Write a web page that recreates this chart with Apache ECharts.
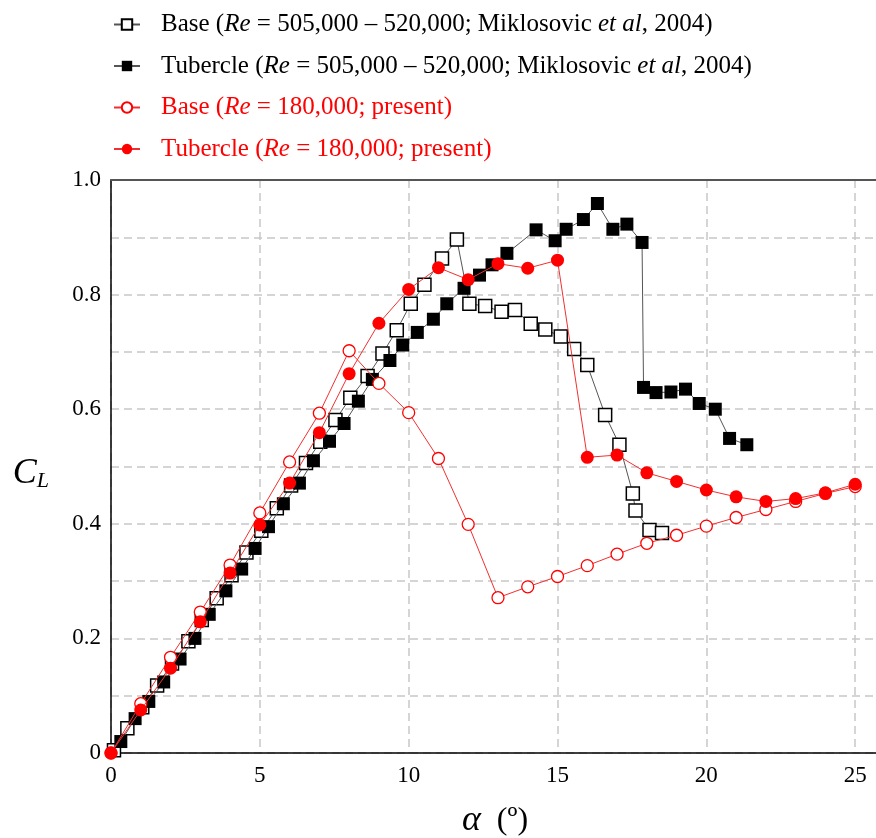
<!DOCTYPE html>
<html>
<head>
<meta charset="utf-8">
<script src="https://cdn.jsdelivr.net/npm/echarts@6/dist/echarts.min.js"></script>
<style>
  html, body { margin: 0; padding: 0; background: #fff; }
  #chart { width: 876px; height: 838px; }
</style>
</head>
<body>
<div id="chart"></div>
<script>
// Miklosovic et al (2004), Re = 505,000 - 520,000
const baseMikAlpha = [0.1, 0.55, 1.05, 1.55, 2.05, 2.6, 3.05, 3.55, 4.05, 4.55, 5.05, 5.57, 6.05, 6.55, 7.03, 7.54, 8.04, 8.62, 9.12, 9.6,
  10.07, 10.53, 11.12, 11.62, 12.04, 12.57, 13.12, 13.57, 14.1, 14.59, 15.11, 15.56, 16.0, 16.6, 17.08, 17.53, 17.62, 18.09, 18.51];
const baseMikCl = [0.005, 0.043, 0.08, 0.118, 0.156, 0.195, 0.232, 0.27, 0.31, 0.35, 0.388, 0.427, 0.467, 0.506, 0.543, 0.581, 0.62, 0.658, 0.697, 0.738,
  0.784, 0.817, 0.863, 0.896, 0.784, 0.78, 0.77, 0.773, 0.749, 0.739, 0.727, 0.705, 0.677, 0.59, 0.538, 0.453, 0.423, 0.389, 0.384];

const tubMikAlpha = [0.33, 0.81, 1.27, 1.77, 2.32, 2.82, 3.3, 3.86, 4.39, 4.84, 5.29, 5.79, 6.33, 6.8, 7.34, 7.83, 8.31, 8.78, 9.37, 9.8,
  10.29, 10.83, 11.28, 11.86, 12.38, 12.8, 13.3, 14.28, 14.92, 15.29, 15.87, 16.34, 16.86, 17.33, 17.84, 17.89, 18.31, 18.81, 19.3, 19.76,
  20.3, 20.78, 21.36];
const tubMikCl = [0.02, 0.06, 0.09, 0.124, 0.164, 0.2, 0.242, 0.283, 0.321, 0.357, 0.395, 0.435, 0.471, 0.51, 0.544, 0.575, 0.614, 0.652, 0.685, 0.712,
  0.734, 0.757, 0.784, 0.811, 0.834, 0.852, 0.872, 0.913, 0.894, 0.914, 0.931, 0.959, 0.914, 0.923, 0.891, 0.638, 0.629, 0.63, 0.635, 0.61,
  0.6, 0.549, 0.538];

// present study, Re = 180,000
const presentAlpha = [0, 1, 2, 3, 4, 5, 6, 7, 8, 9, 10, 11, 12, 13, 14, 15, 16, 17, 18, 19, 20, 21, 22, 23, 24, 25];
const basePresentCl = [0, 0.086, 0.167, 0.246, 0.328, 0.419, 0.508, 0.593, 0.702, 0.645, 0.594, 0.514, 0.399, 0.271, 0.29, 0.308, 0.327,
  0.347, 0.366, 0.38, 0.396, 0.411, 0.425, 0.439, 0.453, 0.465];
const tubPresentCl = [0, 0.075, 0.148, 0.229, 0.314, 0.398, 0.471, 0.559, 0.662, 0.75, 0.809, 0.847, 0.826, 0.854, 0.846, 0.86, 0.516,
  0.52, 0.489, 0.474, 0.459, 0.447, 0.439, 0.444, 0.454, 0.469];

const xTicks = [0, 5, 10, 15, 20, 25];
const yTicks = [0, 0.2, 0.4, 0.6, 0.8, 1.0];

const serif = '"Liberation Serif", "DejaVu Serif", serif';
const RED = '#ff0000';

const seriesNames = ['baseMik', 'tubMik', 'basePresent', 'tubPresent'];
const legendText = {
  baseMik: '{n|Base (}{i|Re}{n| = 505,000 – 520,000; Miklosovic }{i|et al}{n|, 2004)}',
  tubMik: '{n|Tubercle (}{i|Re}{n| = 505,000 – 520,000; Miklosovic }{i|et al}{n|, 2004)}',
  basePresent: '{rn|Base (}{ri|Re}{rn| = 180,000; present)}',
  tubPresent: '{rn|Tubercle (}{ri|Re}{rn| = 180,000; present)}'
};

const zip = (xs, ys) => xs.map((x, i) => [x, ys[i]]);

const chart = echarts.init(document.getElementById('chart'), null, { renderer: 'canvas' });

const LF = 25;
const option = {
  backgroundColor: '#fff',
  animation: false,
  textStyle: { fontFamily: serif },
  legend: {
    orient: 'vertical',
    left: 108,
    top: 7,
    itemWidth: 26,
    itemHeight: 13,
    itemGap: 16.5,
    data: seriesNames,
    formatter: name => legendText[name],
    textStyle: {
      padding: [0, 0, 0, 16],
      rich: {
        n: { fontFamily: serif, fontSize: LF, color: '#000' },
        i: { fontFamily: serif, fontSize: LF, color: '#000', fontStyle: 'italic' },
        rn: { fontFamily: serif, fontSize: LF, color: RED },
        ri: { fontFamily: serif, fontSize: LF, color: RED, fontStyle: 'italic' }
      }
    }
  },
  grid: { left: 111, right: -3, top: 180, bottom: 85, containLabel: false, outerBoundsMode: 'none' },
  xAxis: [{
    type: 'value',
    min: 0,
    max: 25.8,
    interval: 5,
    name: '{a|α}{b|  (º)}',
    nameLocation: 'middle',
    nameGap: 50,
    nameTextStyle: {
      rich: {
        a: { fontFamily: serif, fontSize: 36, fontStyle: 'italic', color: '#000' },
        b: { fontFamily: serif, fontSize: 32, color: '#000' }
      }
    },
    axisLine: { show: true, onZero: false, lineStyle: { color: '#000', width: 1.5 } },
    axisTick: { show: false },
    axisLabel: {
      fontFamily: serif, fontSize: 23, color: '#000', margin: 11,
      showMaxLabel: false,
      formatter: v => (xTicks.indexOf(v) >= 0 ? String(v) : '')
    },
    splitLine: { show: true, lineStyle: { color: '#c8c8c8', width: 1.5, type: [8, 5] } }
  }, {
    type: 'value',
    position: 'top',
    min: 0,
    max: 25.8,
    axisLine: { show: true, onZero: false, lineStyle: { color: '#555', width: 2 } },
    axisTick: { show: false },
    axisLabel: { show: false },
    splitLine: { show: false }
  }],
  yAxis: {
    type: 'value',
    min: 0,
    max: 1,
    interval: 0.1,
    name: '{c|C}{s|L}',
    nameLocation: 'middle',
    nameRotate: 0,
    nameGap: 62,
    nameTextStyle: {
      padding: [14, 0, 0, 0],
      rich: {
        c: { fontFamily: serif, fontSize: 36, fontStyle: 'italic', color: '#000' },
        s: { fontFamily: serif, fontSize: 22, fontStyle: 'italic', color: '#000', padding: [16, 0, 0, 0] }
      }
    },
    axisLine: { show: true, lineStyle: { color: '#000', width: 1.5 } },
    axisTick: { show: false },
    axisLabel: {
      fontFamily: serif, fontSize: 23, color: '#000', margin: 10,
      formatter: v => {
        const hit = yTicks.find(t => Math.abs(t - v) < 1e-6);
        if (hit === undefined) return '';
        return hit === 0 ? '0' : hit.toFixed(1);
      }
    },
    splitLine: { show: true, lineStyle: { color: '#c8c8c8', width: 1.5, type: [8, 5] } }
  },
  series: [
    {
      name: 'baseMik', type: 'line', data: zip(baseMikAlpha, baseMikCl),
      symbol: 'rect', symbolSize: 13,
      lineStyle: { color: '#555', width: 1 },
      itemStyle: { color: '#fff', borderColor: '#000', borderWidth: 1.5 },
      z: 2
    },
    {
      name: 'tubMik', type: 'line', data: zip(tubMikAlpha, tubMikCl),
      symbol: 'rect', symbolSize: 13,
      lineStyle: { color: '#555', width: 1 },
      itemStyle: { color: '#000', borderColor: '#000', borderWidth: 0 },
      z: 3
    },
    {
      name: 'basePresent', type: 'line', data: zip(presentAlpha, basePresentCl),
      symbol: 'circle', symbolSize: 12,
      lineStyle: { color: '#f03030', width: 1 },
      itemStyle: { color: '#fff', borderColor: RED, borderWidth: 1.3 },
      z: 4
    },
    {
      name: 'tubPresent', type: 'line', data: zip(presentAlpha, tubPresentCl),
      symbol: 'circle', symbolSize: 13,
      lineStyle: { color: '#f03030', width: 1 },
      itemStyle: { color: RED, borderColor: RED, borderWidth: 0 },
      z: 5
    }
  ]
};

chart.setOption(option);
</script>
</body>
</html>
